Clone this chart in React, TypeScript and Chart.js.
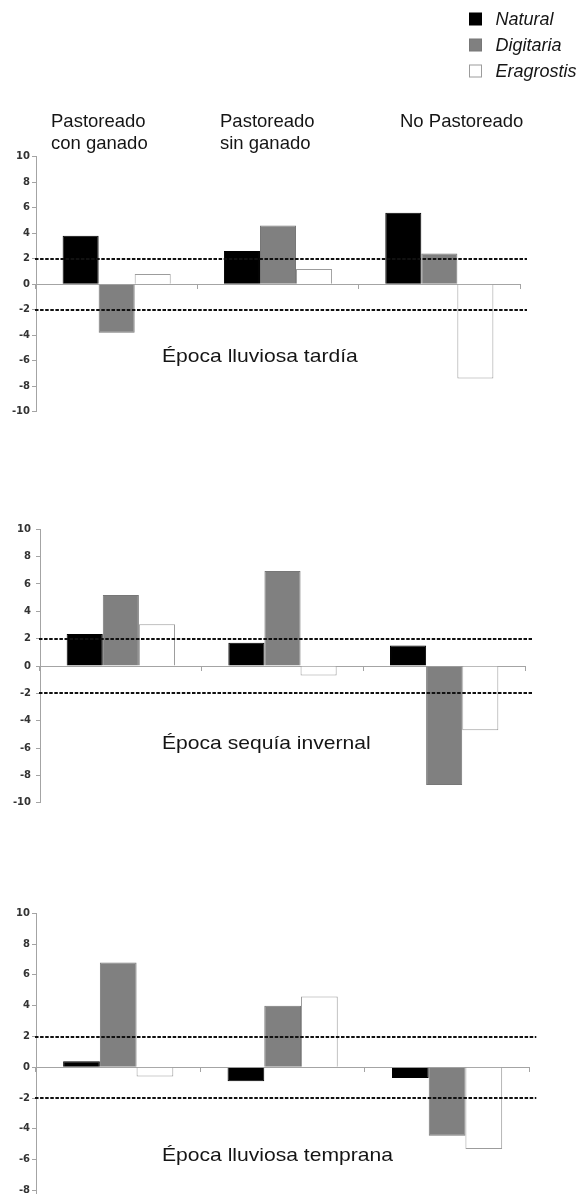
import React, { useEffect, useRef } from 'react';
import { Chart, registerables } from 'chart.js';

Chart.register(...registerables);

// ---- data ----
const categories = ['Pastoreado con ganado', 'Pastoreado sin ganado', 'No Pastoreado'];
const categoryHeaderLines = [
  ['Pastoreado', 'con ganado'],
  ['Pastoreado', 'sin ganado'],
  ['No Pastoreado'],
];
const seriesNames = ['Natural', 'Digitaria', 'Eragrostis'];
const seasonTitles = ['Época lluviosa tardía', 'Época sequía invernal', 'Época lluviosa temprana'];

const lateRainyNatural = [3.8, 2.6, 5.6];
const lateRainyDigitaria = [-3.8, 4.6, 2.4];
const lateRainyEragrostis = [0.8, 1.2, -7.4];

const winterDryNatural = [2.35, 1.7, 1.5];
const winterDryDigitaria = [5.2, 6.95, -8.7];
const winterDryEragrostis = [3.05, -0.7, -4.7];

const earlyRainyNatural = [0.4, -0.9, -0.7];
const earlyRainyDigitaria = [6.8, 4.0, -4.45];
const earlyRainyEragrostis = [-0.6, 4.6, -5.3];

const thresholdValues = [2, -2];
const yMin = -10;
const yMax = 10;
const yStep = 2;

// ---- styles ----
const seriesFill = ['#000000', '#808080', '#ffffff'];
const seriesBorder = ['#000000', '#777777', '#9c9c9c'];
const axisColor = '#a4a4a4';
const FONT = '"Liberation Sans", Arial, Helvetica, sans-serif';

const panels = [
  {
    series: [lateRainyNatural, lateRainyDigitaria, lateRainyEragrostis],
    title: seasonTitles[0],
    top: 0, height: 426, padTop: 156.7, padBottom: 14.3, padRight: 59,
    axisWidth: 36, tickPad: 2, withHeader: true,
  },
  {
    series: [winterDryNatural, winterDryDigitaria, winterDryEragrostis],
    title: seasonTitles[1],
    top: 500, height: 320, padTop: 29.3, padBottom: 17.3, padRight: 54,
    axisWidth: 40, tickPad: 5, withHeader: false,
  },
  {
    series: [earlyRainyNatural, earlyRainyDigitaria, earlyRainyEragrostis],
    title: seasonTitles[2],
    top: 880, height: 360, padTop: 33.3, padBottom: 18.7, padRight: 49.7,
    axisWidth: 36, tickPad: 2, withHeader: false,
  },
];

const headerX = [51, 220, 400];
const headerBaselines = [127, 149];
const legendBox = { x: 469.5, tops: [13, 39, 65], size: 12, textX: 495.5 };

// dashed reference lines, season title, and (first panel) category headers + legend
const panelDecor = {
  id: 'panelDecor',
  afterDatasetsDraw(chart: any, _args: any, opts: any) {
    const { ctx, chartArea } = chart;
    const y = chart.scales.y;
    ctx.save();
    ctx.strokeStyle = '#111111';
    ctx.lineWidth = 2;
    ctx.setLineDash([3.5, 1.6]);
    for (const v of opts.thresholds) {
      const py = Math.round(y.getPixelForValue(v));
      ctx.beginPath();
      ctx.moveTo(chartArea.left - 1, py);
      ctx.lineTo(chartArea.right + 7, py);
      ctx.stroke();
    }
    ctx.setLineDash([]);

    ctx.fillStyle = '#151515';
    ctx.textAlign = 'left';
    ctx.textBaseline = 'alphabetic';
    ctx.font = `19px ${FONT}`;
    ctx.save();
    ctx.translate(162, y.getPixelForValue(-6.1));
    ctx.scale(1.11, 1);
    ctx.fillText(opts.title, 0, 0);
    ctx.restore();

    if (opts.withHeader) {
      ctx.font = `18.5px ${FONT}`;
      categoryHeaderLines.forEach((lines, i) => {
        lines.forEach((line, j) => ctx.fillText(line, headerX[i], headerBaselines[j]));
      });

      ctx.font = `italic 18px ${FONT}`;
      chart.data.datasets.forEach((ds: any, i: number) => {
        const top = legendBox.tops[i];
        ctx.fillStyle = ds.backgroundColor;
        ctx.fillRect(legendBox.x, top, legendBox.size, legendBox.size);
        ctx.strokeStyle = ds.borderColor;
        ctx.lineWidth = 1;
        ctx.strokeRect(legendBox.x, top, legendBox.size, legendBox.size);
        ctx.fillStyle = '#151515';
        ctx.fillText(ds.label, legendBox.textX, top + 11.5);
      });
    }
    ctx.restore();
  },
};

function SeasonPanel({ panel }: { panel: (typeof panels)[number] }) {
  const ref = useRef<HTMLCanvasElement | null>(null);

  useEffect(() => {
    if (!ref.current) return;
    const chart = new Chart(ref.current, {
      type: 'bar',
      data: {
        labels: categories,
        datasets: seriesNames.map((name, i) => ({
          label: name,
          data: panel.series[i],
          backgroundColor: seriesFill[i],
          borderColor: seriesBorder[i],
          borderWidth: 1,
          categoryPercentage: 0.67,
          barPercentage: 1,
        })),
      },
      options: {
        animation: false,
        responsive: false,
        devicePixelRatio: 1,
        layout: {
          padding: { top: panel.padTop, bottom: panel.padBottom, left: 0, right: panel.padRight },
        },
        plugins: {
          legend: { display: false },
          tooltip: { enabled: false },
          panelDecor: { thresholds: thresholdValues, title: panel.title, withHeader: panel.withHeader },
        } as any,
        scales: {
          x: {
            type: 'category',
            position: { y: 0 } as any,
            offset: true,
            ticks: { display: false },
            grid: { offset: true, drawOnChartArea: false, drawTicks: true, tickLength: 4, color: axisColor },
            border: { display: true, color: axisColor, width: 1 },
          },
          y: {
            type: 'linear',
            min: yMin,
            max: yMax,
            ticks: {
              stepSize: yStep,
              padding: panel.tickPad,
              color: '#333333',
              font: { family: 'DejaVu Sans', size: 10, weight: 'bold' },
            },
            grid: { drawOnChartArea: false, drawTicks: true, tickLength: 4, color: axisColor },
            border: { display: true, color: axisColor, width: 1 },
            afterFit(scale: any) {
              scale.width = panel.axisWidth;
            },
          },
        },
      },
      plugins: [panelDecor],
    });
    return () => chart.destroy();
  }, [panel]);

  return (
    <div style={{ position: 'absolute', left: 0, top: panel.top, width: 579, height: panel.height }}>
      <canvas ref={ref} width={579} height={panel.height} style={{ display: 'block' }} />
    </div>
  );
}

export default function App() {
  return (
    <div
      style={{
        position: 'absolute',
        left: 0,
        top: 0,
        width: 579,
        height: 1194,
        overflow: 'hidden',
        background: '#ffffff',
      }}
    >
      {panels.map((p, i) => (
        <SeasonPanel key={i} panel={p} />
      ))}
    </div>
  );
}
